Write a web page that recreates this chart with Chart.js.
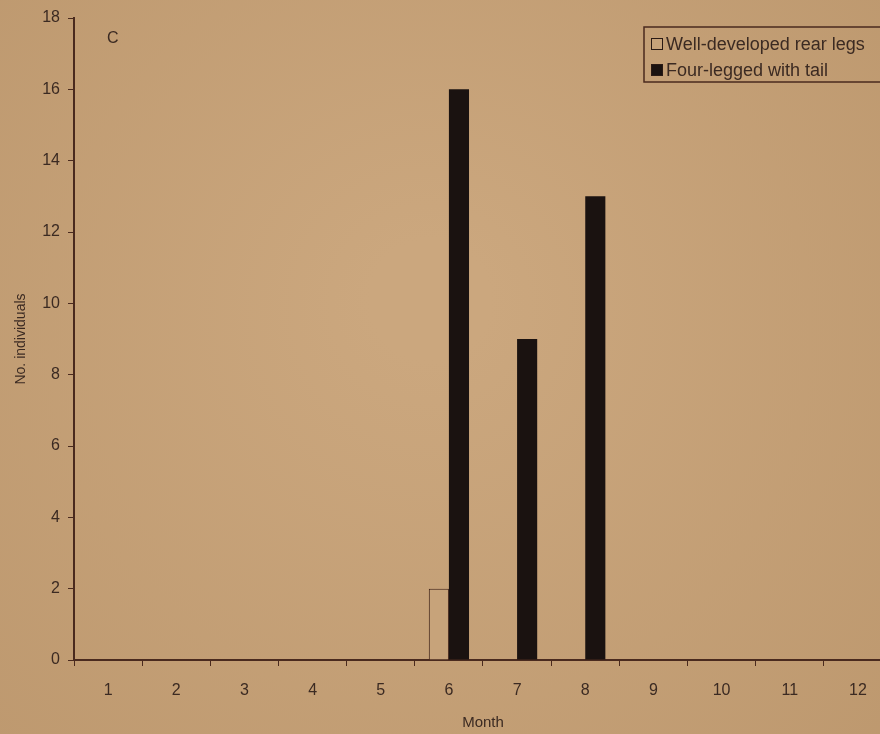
<!DOCTYPE html>
<html>
<head>
<meta charset="utf-8">
<title>No. individuals by month</title>
<script src="https://cdn.jsdelivr.net/npm/chart.js@4.4.0/dist/chart.umd.min.js"></script>
<style>
  html, body { margin: 0; padding: 0; overflow: hidden; background: #c4a077; }
  #grafo { width: 900px; height: 734px; }
</style>
</head>
<body>
<div id="grafo"><canvas id="meses"></canvas></div>
<script>
const meses = ['1', '2', '3', '4', '5', '6', '7', '8', '9', '10', '11', '12']
const pernasTraseiras = [0, 0, 0, 0, 0, 2, 0, 0, 0, 0, 0, 0]
const quatroPatas = [0, 0, 0, 0, 0, 16, 9, 13, 0, 0, 0, 0]
const legendas = ['Well-developed rear legs', 'Four-legged with tail']

const papel = '#c7a37a'
const tinta = '#4a2a1e'
const texto = '#3b2a22'
const fonte = '"Liberation Sans", Arial, sans-serif'

// fundo com um pouco de vinheta, como na foto
const fundo = {
  id: 'fundo',
  beforeDraw(chart) {
    const ctx = chart.ctx
    const g = ctx.createRadialGradient(430, 300, 60, 430, 360, 700)
    g.addColorStop(0, '#cba77e')
    g.addColorStop(1, '#bb966c')
    ctx.save()
    ctx.fillStyle = g
    ctx.fillRect(0, 0, chart.width, chart.height)
    ctx.restore()
  }
}

// legenda com caixa e a letra do painel
const extras = {
  id: 'extras',
  afterDraw(chart) {
    const ctx = chart.ctx
    ctx.save()
    ctx.strokeStyle = tinta
    ctx.lineWidth = 1.5
    ctx.strokeRect(644, 27, 250, 55)
    ctx.font = '18px ' + fonte
    ctx.textBaseline = 'middle'
    chart.data.datasets.forEach((ds, i) => {
      const y = 44 + i * 26
      ctx.fillStyle = ds.backgroundColor
      ctx.fillRect(651, y - 6, 12, 12)
      ctx.strokeStyle = '#2a1a14'
      ctx.lineWidth = 1
      ctx.strokeRect(651.5, y - 5.5, 11, 11)
      ctx.fillStyle = texto
      ctx.fillText(ds.label, 666, y + 1)
    })
    ctx.font = '16px ' + fonte
    ctx.fillText('C', 107, 39)
    ctx.restore()
  }
}

new Chart(document.getElementById('meses'), {
  type: 'bar',
  data: {
    labels: meses,
    datasets: [
      {
        label: legendas[0],
        data: pernasTraseiras,
        backgroundColor: papel,
        borderColor: '#3a1e16',
        borderWidth: 1
      },
      {
        label: legendas[1],
        data: quatroPatas,
        backgroundColor: '#1a1210',
        borderColor: '#1a1210',
        borderWidth: 0
      }
    ]
  },
  options: {
    responsive: true,
    maintainAspectRatio: false,
    animation: false,
    layout: { padding: { top: 18, right: 8, left: 0, bottom: 0 } },
    categoryPercentage: 0.59,
    barPercentage: 1,
    plugins: {
      legend: { display: false },
      tooltip: { enabled: false }
    },
    scales: {
      x: {
        grid: { drawOnChartArea: false, drawTicks: true, tickLength: 6, color: tinta, offset: true },
        border: { color: tinta, width: 2 },
        ticks: { color: texto, padding: 15, font: { size: 16, family: fonte } },
        title: {
          display: true, text: 'Month', color: texto, padding: { top: 0, bottom: 2 },
          font: { size: 15, family: fonte }
        },
        afterFit(scale) { scale.height = 74 }
      },
      y: {
        min: 0,
        max: 18,
        grid: { drawOnChartArea: false, drawTicks: true, tickLength: 6, color: tinta },
        border: { color: tinta, width: 2 },
        ticks: { stepSize: 2, color: texto, padding: 8, font: { size: 16, family: fonte } },
        title: {
          display: true, text: 'No. individuals', color: texto, padding: { top: 13, bottom: 0 },
          font: { size: 14, family: fonte }
        },
        afterFit(scale) { scale.width = 74 }
      }
    }
  },
  plugins: [fundo, extras]
})
</script>
</body>
</html>
